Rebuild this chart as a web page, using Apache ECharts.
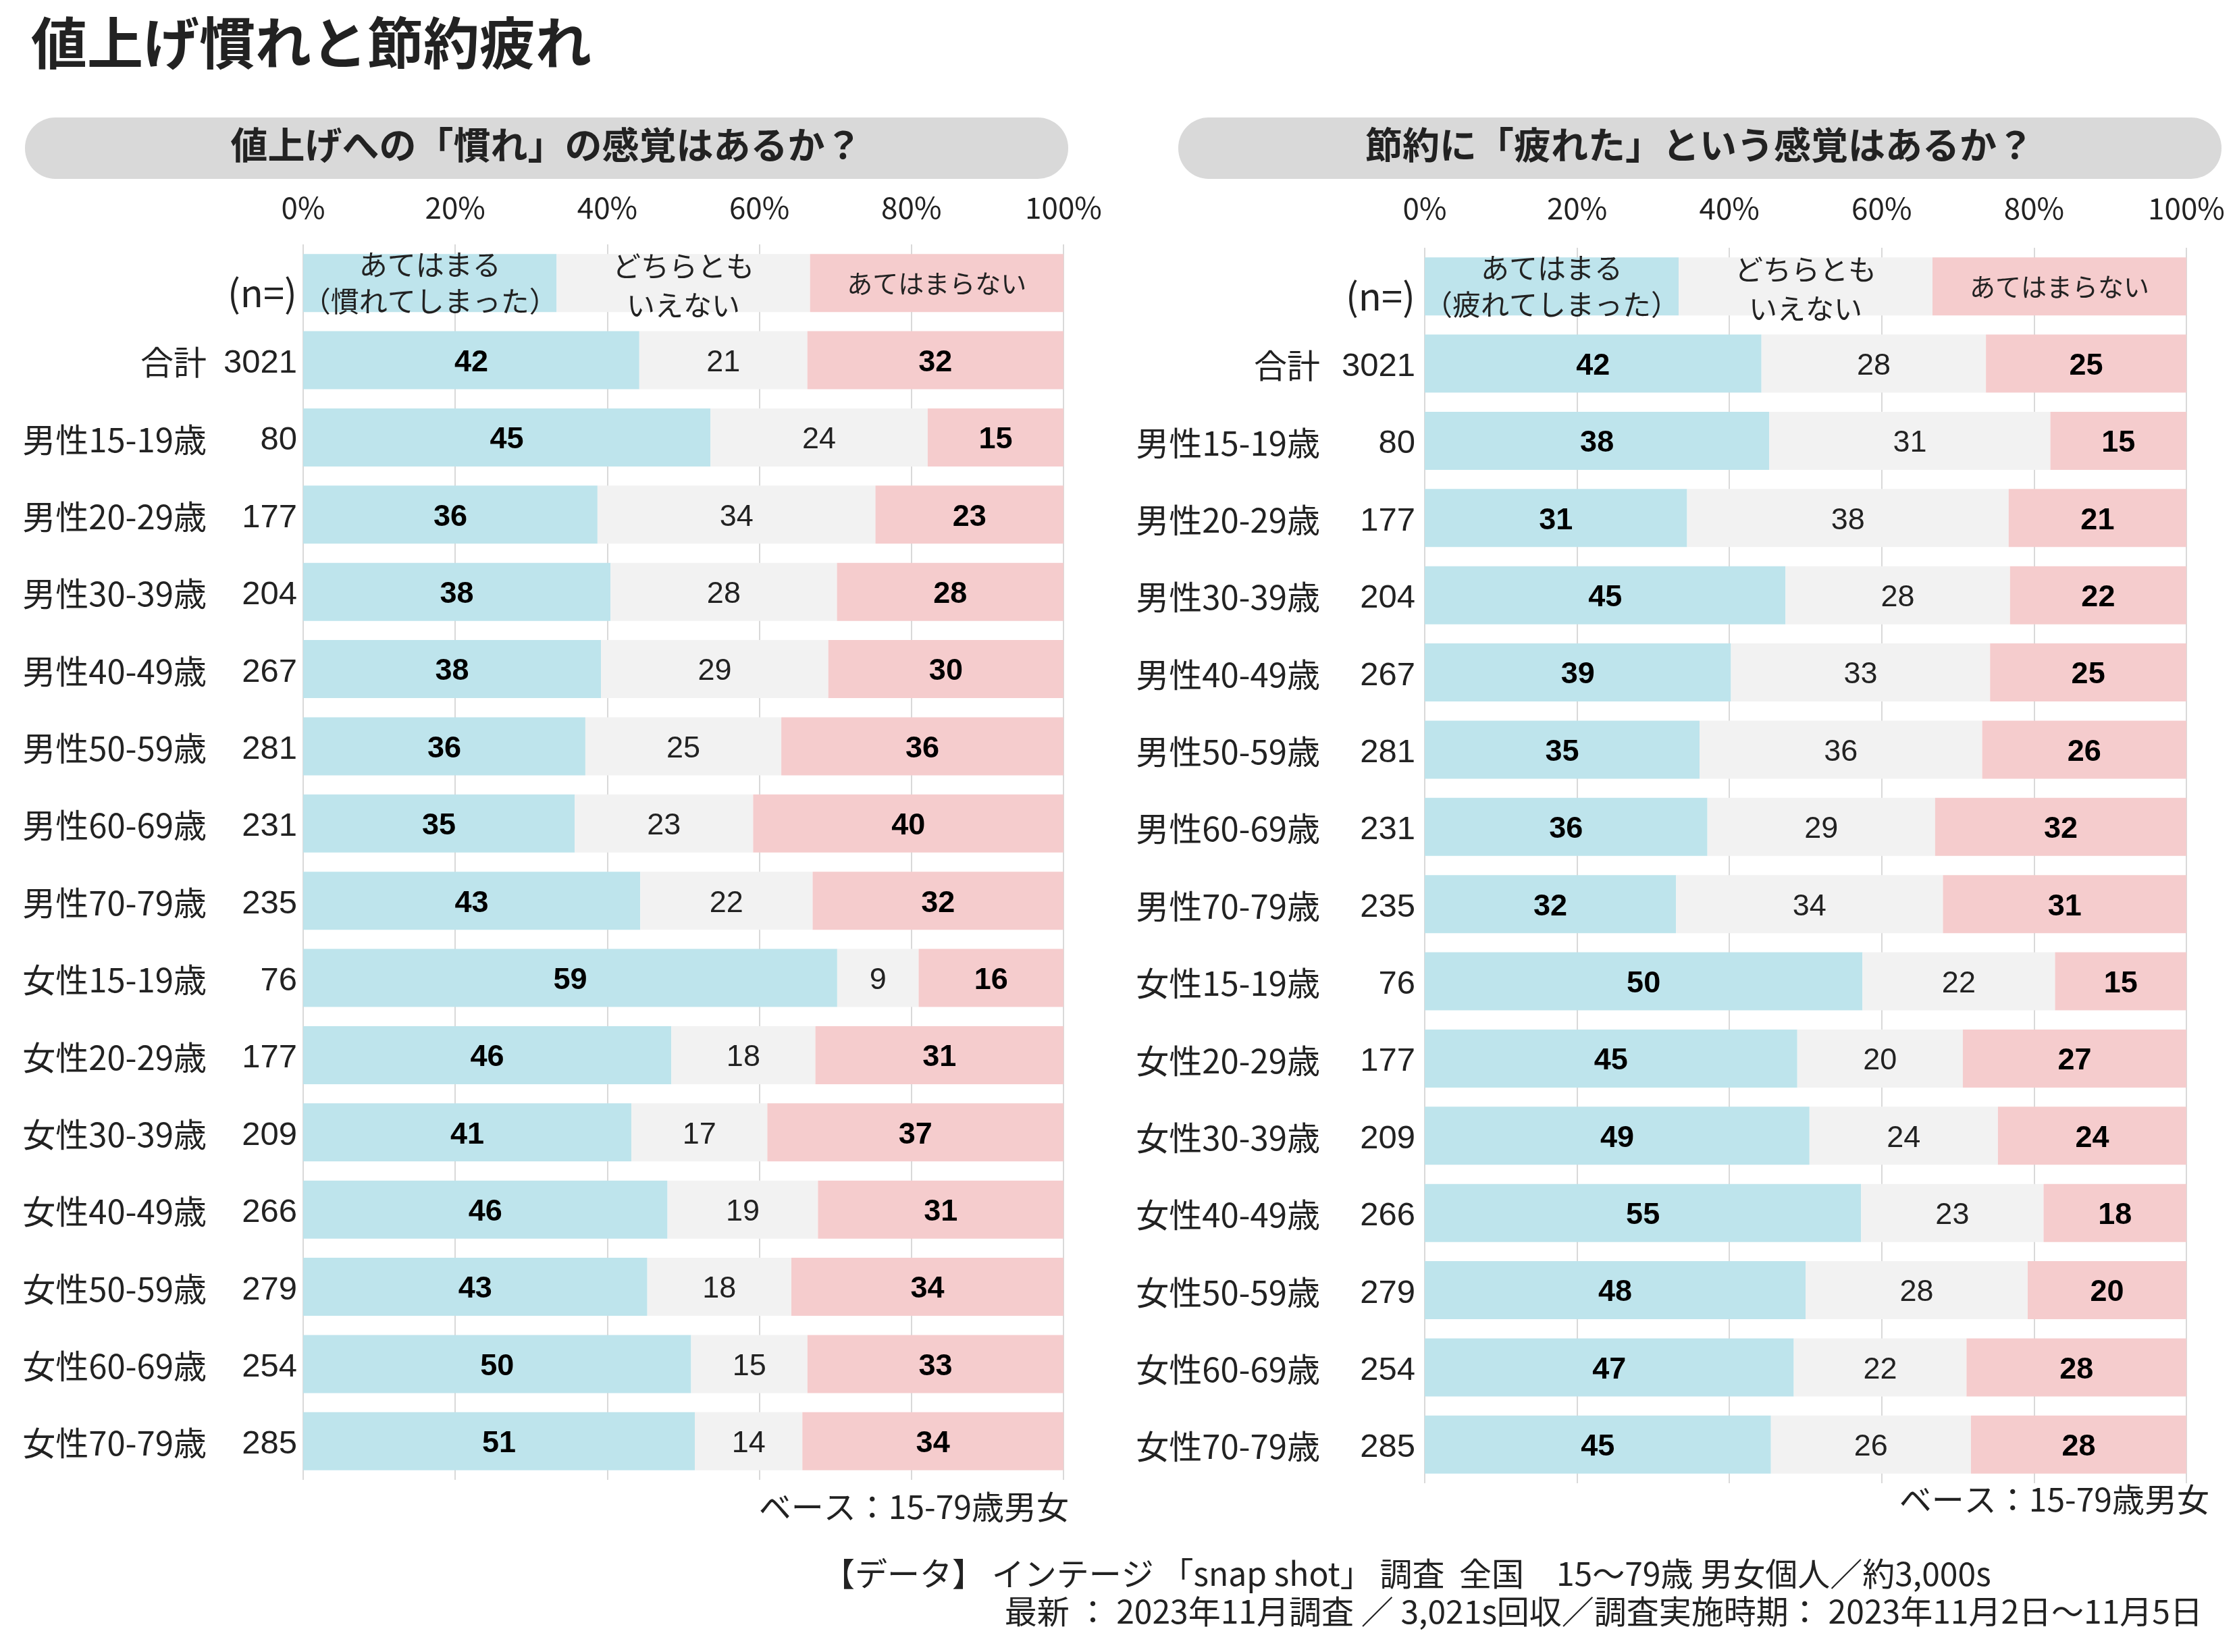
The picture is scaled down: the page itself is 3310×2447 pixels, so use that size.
<!DOCTYPE html>
<html>
<head>
<meta charset="utf-8">
<script src="https://cdn.jsdelivr.net/npm/echarts@6.0.0/dist/echarts.min.js"></script>
<style>
  html, body { margin: 0; padding: 0; background: #fff; }
  #chart { width: 3310px; height: 2447px; }
</style>
</head>
<body>
<div id="chart"></div>
<script>
const categories = ['合計', '男性15-19歳', '男性20-29歳', '男性30-39歳', '男性40-49歳', '男性50-59歳', '男性60-69歳', '男性70-79歳',
  '女性15-19歳', '女性20-29歳', '女性30-39歳', '女性40-49歳', '女性50-59歳', '女性60-69歳', '女性70-79歳'];
const sampleSizes = [3021, 80, 177, 204, 267, 281, 231, 235, 76, 177, 209, 266, 279, 254, 285];

// 値上げへの「慣れ」
const usedYes = [42, 45, 36, 38, 38, 36, 35, 43, 59, 46, 41, 46, 43, 50, 51];
const usedMid = [21, 24, 34, 28, 29, 25, 23, 22, 9, 18, 17, 19, 18, 15, 14];
const usedNo = [32, 15, 23, 28, 30, 36, 40, 32, 16, 31, 37, 31, 34, 33, 34];

// 節約に「疲れた」
const tiredYes = [42, 38, 31, 45, 39, 35, 36, 32, 50, 45, 49, 55, 48, 47, 45];
const tiredMid = [28, 31, 38, 28, 33, 36, 29, 34, 22, 20, 24, 23, 28, 22, 26];
const tiredNo = [25, 15, 21, 22, 25, 26, 32, 31, 15, 27, 24, 18, 20, 28, 28];

const xTicks = [0, 20, 40, 60, 80, 100];
const usedKeys = ['あてはまる\n（慣れてしまった）', 'どちらとも\nいえない', 'あてはまらない'];
const tiredKeys = ['あてはまる\n（疲れてしまった）', 'どちらとも\nいえない', 'あてはまらない'];

const JP = '"Noto Sans CJK JP", "Noto Sans", sans-serif';
const NUM = '"Liberation Sans", Arial, sans-serif';
const COLORS = ['#bee4ec', '#f2f2f2', '#f5cccd'];
const TEXT = '#222';

const chart = echarts.init(document.getElementById('chart'));

function buildSeries(gridIndex, yes, mid, no, keys) {
  // header row is the key: three equal parts
  const rows = [[1, 1, 1]].concat(yes.map((v, i) => [v, mid[i], no[i]]));
  return [0, 1, 2].map(k => ({
    type: 'bar',
    stack: 'g' + gridIndex,
    xAxisIndex: gridIndex,
    yAxisIndex: gridIndex,
    barWidth: 86,
    itemStyle: { color: COLORS[k] },
    label: {
      show: true,
      position: 'inside',
      offset: [0, 4],
      fontFamily: NUM,
      fontSize: 45,
      fontWeight: k === 1 ? 'normal' : 'bold',
      color: k === 1 ? TEXT : '#000',
      formatter: p => (p.dataIndex === 0 ? keys[k] : p.data.raw)
    },
    data: rows.map((r, i) => {
      const sum = r[0] + r[1] + r[2];
      const item = { value: r[k] / sum * 100, raw: r[k] };
      if (i === 0) {
        item.label = {
          fontFamily: JP,
          fontWeight: 'normal',
          color: TEXT,
          fontSize: k === 2 ? 38 : 42,
          lineHeight: k === 1 ? 58 : 54,
          offset: [0, k === 1 ? 4 : 0]
        };
      }
      return item;
    })
  }));
}

function xAxis(gridIndex, margin) {
  return {
    type: 'value',
    gridIndex,
    position: 'top',
    min: 0,
    max: 100,
    interval: 20,
    axisLine: { show: false },
    axisTick: { show: false },
    axisLabel: {
      margin,
      fontFamily: JP,
      fontSize: 44,
      color: TEXT,
      formatter: v => (xTicks.includes(v) ? v + '%' : '')
    },
    splitLine: { show: true, lineStyle: { color: '#d9d9d9', width: 2 } }
  };
}

function yAxis(gridIndex, margin, nWidth) {
  return {
    type: 'category',
    gridIndex,
    inverse: true,
    data: [''].concat(categories),
    axisLine: { show: false },
    axisTick: { show: false },
    axisLabel: {
      margin,
      formatter: (val, idx) => idx === 0
        ? '{nh|(n=)}'
        : `{name|${val}}{n|${sampleSizes[idx - 1]}}`,
      rich: {
        name: { width: 275, align: 'right', fontFamily: JP, fontSize: 49, lineHeight: 60, color: TEXT, padding: [6, 0, 0, 0] },
        n: { width: nWidth, align: 'right', fontFamily: NUM, fontSize: 49, lineHeight: 60, color: TEXT, padding: [10, 0, 0, 0] },
        nh: { width: nWidth, align: 'right', fontFamily: JP, fontSize: 56, lineHeight: 60, color: TEXT, padding: [30, 0, 0, 0] }
      }
    }
  };
}

function pill(x, text) {
  return [
    { type: 'rect', shape: { x, y: 174, width: 1545, height: 91, r: 45 }, style: { fill: '#d9d9d9' } },
    { type: 'text', x: x + 772, y: 214,
      style: { text, font: `bold 55px ${JP}`, fill: TEXT, align: 'center', verticalAlign: 'middle' } }
  ];
}

function note(x, y, text, align) {
  return { type: 'text', x, y,
    style: { text, font: `48px ${JP}`, fill: TEXT, align, verticalAlign: 'middle' } };
}

chart.setOption({
  animation: false,
  backgroundColor: '#fff',
  grid: [
    { left: 449, width: 1126, top: 362, height: 1830 },
    { left: 2110, width: 1128, top: 367, height: 1830 }
  ],
  xAxis: [xAxis(0, 33), xAxis(1, 37)],
  yAxis: [yAxis(0, 9, 134), yAxis(1, 14, 141)],
  series: buildSeries(0, usedYes, usedMid, usedNo, usedKeys)
    .concat(buildSeries(1, tiredYes, tiredMid, tiredNo, tiredKeys)),
  graphic: [
    { type: 'text', left: 46, top: 22,
      style: { text: '値上げ慣れと節約疲れ', font: `bold 83px ${JP}`, fill: TEXT } },
    ...pill(37, '値上げへの「慣れ」の感覚はあるか？'),
    ...pill(1745, '節約に「疲れた」という感覚はあるか？'),
    note(1583, 2232, 'ベース：15-79歳男女', 'right'),
    note(3272, 2221, 'ベース：15-79歳男女', 'right'),
    note(1218, 2331, '【データ】 インテージ 「snap shot」 調査  全国　15～79歳 男女個人／約3,000s', 'left'),
    note(3262, 2387, '最新 ： 2023年11月調査 ／ 3,021s回収／調査実施時期： 2023年11月2日～11月5日', 'right')
  ]
});
</script>
</body>
</html>
